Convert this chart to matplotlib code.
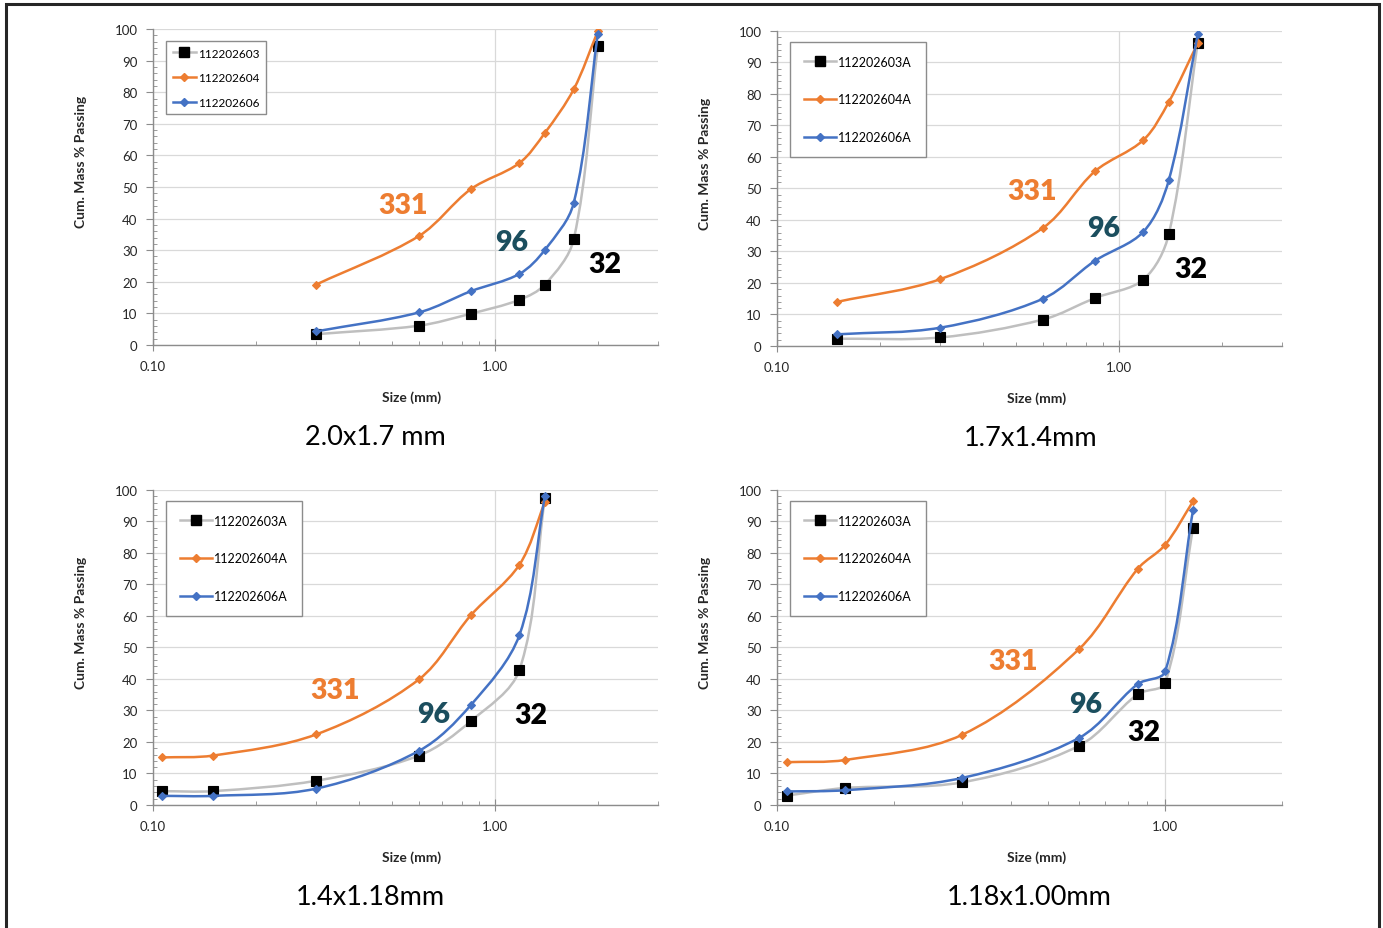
import numpy as np
import matplotlib
matplotlib.use('Agg')
import matplotlib.pyplot as plt
from matplotlib.path import Path
from matplotlib.patches import PathPatch, Rectangle
from matplotlib.lines import Line2D
from matplotlib.ticker import FixedLocator, MultipleLocator, FuncFormatter

plt.rcParams['font.family'] = ['Lato', 'DejaVu Sans']

# 数据 (粒度 mm, 累计通过率 %)
sizes_a = [0.3, 0.6, 0.85, 1.18, 1.4, 1.7, 2.0]
p603_a = [3.4, 6.1, 9.9, 14.3, 19.1, 33.4, 94.5]
p604_a = [19.1, 34.5, 49.3, 57.6, 67.1, 80.9, 99.3]
p606_a = [4.3, 10.3, 17.0, 22.5, 30.1, 44.9, 98.5]

sizes_b = [0.15, 0.3, 0.6, 0.85, 1.18, 1.4, 1.7]
p603_b = [2.3, 2.7, 8.4, 15.2, 21.1, 35.6, 96.2]
p604_b = [14.0, 21.2, 37.5, 55.4, 65.4, 77.5, 96.1]
p606_b = [3.7, 5.8, 15.0, 27.0, 36.3, 52.7, 99.0]

sizes_c = [0.106, 0.15, 0.3, 0.6, 0.85, 1.18, 1.4]
p603_c = [4.4, 4.4, 7.7, 15.7, 26.6, 42.9, 97.3]
p604_c = [15.1, 15.7, 22.4, 39.9, 60.2, 76.3, 96.1]
p606_c = [2.9, 2.9, 5.2, 17.2, 31.7, 54.0, 98.0]

sizes_d = [0.106, 0.15, 0.3, 0.6, 0.85, 1.0, 1.18]
p603_d = [3.0, 5.4, 7.2, 18.8, 35.2, 38.8, 88.0]
p604_d = [13.6, 14.3, 22.3, 49.5, 75.0, 82.6, 96.4]
p606_d = [4.3, 4.7, 8.6, 21.3, 38.4, 42.4, 93.7]

titles = ['2.0x1.7 mm', '1.7x1.4mm', '1.4x1.18mm', '1.18x1.00mm']
labels_a = ['112202603', '112202604', '112202606']
labels_other = ['112202603A', '112202604A', '112202606A']
counts = ['331', '96', '32']
x_max = [3.0, 3.0, 3.0, 2.0]

# 样式
c_gray, c_orange, c_blue = '#BFBFBF', '#ED7D31', '#4472C4'
count_colors = ['#ED7D31', '#1B4E5E', '#000000']
axis_col = '#8C8C8C'

# 面板位置 (figure fraction)
boxes = [[0.1106, 0.6276, 0.3652, 0.3401],
         [0.5618, 0.6265, 0.3652, 0.3391],
         [0.1106, 0.1324, 0.3652, 0.3391],
         [0.5618, 0.1324, 0.3652, 0.3391]]
# 标注位置 (axes fraction): 331, 96, 32
count_pos = [[(0.495, 0.443), (0.711, 0.326), (0.895, 0.256)],
             [(0.505, 0.492), (0.646, 0.375), (0.820, 0.244)],
             [(0.360, 0.365), (0.556, 0.289), (0.749, 0.286)],
             [(0.467, 0.457), (0.612, 0.321), (0.727, 0.232)]]
title_x = [0.44, 0.503, 0.43, 0.499]


def smooth_path(ax, xs, ys):
    # Excel 风格平滑线: 在屏幕坐标里按段长比例算 Bezier 控制点
    pts = ax.transData.transform(np.column_stack([xs, ys]))
    n = len(pts)
    verts = [pts[0]]
    codes = [Path.MOVETO]
    for i in range(n - 1):
        p0 = pts[max(i - 1, 0)]
        p1 = pts[i]
        p2 = pts[i + 1]
        p3 = pts[min(i + 2, n - 1)]
        d01 = np.hypot(*(p1 - p0))
        d12 = np.hypot(*(p2 - p1))
        d23 = np.hypot(*(p3 - p2))
        c1 = p1 + (p2 - p0) * d12 / max(d01 + d12, 1e-9) / 3
        c2 = p2 - (p3 - p1) * d12 / max(d12 + d23, 1e-9) / 3
        verts += [c1, c2, p2]
        codes += [Path.CURVE4] * 3
    verts = ax.transData.inverted().transform(np.array(verts))
    return Path(verts, codes)


fig = plt.figure(figsize=(13.83, 9.29), dpi=100)

datasets = [(sizes_a, p603_a, p604_a, p606_a),
            (sizes_b, p603_b, p604_b, p606_b),
            (sizes_c, p603_c, p604_c, p606_c),
            (sizes_d, p603_d, p604_d, p606_d)]

for k, (xs, s603, s604, s606) in enumerate(datasets):
    ax = fig.add_axes(boxes[k])
    ax.set_xscale('log')
    ax.set_xlim(0.1, x_max[k])
    ax.set_ylim(0, 100)

    series = [(s603, c_gray, 's', 'black', 7, 2),
              (s604, c_orange, 'D', c_orange, 4.5, 3),
              (s606, c_blue, 'D', c_blue, 4.5, 4)]
    labels = labels_a if k == 0 else labels_other
    handles = []
    for (ys, lc, mk, mc, ms, z), lab in zip(series, labels):
        ax.add_patch(PathPatch(smooth_path(ax, xs, ys), facecolor='none', edgecolor=lc,
                               lw=1.8, zorder=z))
        ax.plot(xs, ys, linestyle='none', marker=mk, color=mc, markersize=ms,
                markeredgewidth=0.8, zorder=z + 0.5)
        handles.append(Line2D([], [], color=lc, lw=1.8, marker=mk, markerfacecolor=mc,
                              markeredgecolor=mc, markersize=ms))

    # 网格和坐标轴
    ax.yaxis.set_major_locator(MultipleLocator(10))
    ax.yaxis.set_minor_locator(MultipleLocator(2))
    ax.xaxis.set_major_locator(FixedLocator([0.1, 1.0]))
    ax.xaxis.set_major_formatter(FuncFormatter(lambda v, p: '%.2f' % v))
    ax.xaxis.set_minor_formatter(FuncFormatter(lambda v, p: ''))
    ax.grid(True, which='major', color='#D9D9D9', lw=0.9)
    ax.set_axisbelow(True)
    for s in ['top', 'right']:
        ax.spines[s].set_visible(False)
    for s in ['left', 'bottom']:
        ax.spines[s].set_color(axis_col)
        ax.spines[s].set_linewidth(1.0)
    ax.tick_params(axis='y', which='major', direction='out', length=5, color=axis_col,
                   labelsize=9.5, pad=6, labelcolor='#262626')
    ax.tick_params(axis='y', which='minor', direction='in', length=3, color=axis_col)
    ax.tick_params(axis='x', which='major', direction='inout', length=8, color=axis_col,
                   labelsize=9.5, pad=7, labelcolor='#262626')
    ax.tick_params(axis='x', which='minor', direction='in', length=3, color=axis_col)

    ax.set_xlabel('Size (mm)', fontsize=10, fontweight='bold', color='#262626')
    ax.xaxis.set_label_coords(0.513, -0.145)
    ax.set_ylabel('Cum. Mass % Passing', fontsize=10, fontweight='bold', color='#262626')
    ax.yaxis.set_label_coords(-0.13, 0.582)

    if k == 0:
        leg = ax.legend(handles, labels, loc='upper left', bbox_to_anchor=(0.026, 0.962),
                        fontsize=8.5, handlelength=2.0, handletextpad=0.15,
                        labelspacing=1.15, borderpad=0.55, borderaxespad=0,
                        fancybox=False, framealpha=1)
    else:
        leg = ax.legend(handles, labels, loc='upper left', bbox_to_anchor=(0.026, 0.965),
                        fontsize=9, handlelength=2.6, handletextpad=0.15,
                        labelspacing=2.05, borderpad=1.1, borderaxespad=0,
                        fancybox=False, framealpha=1)
    leg.get_frame().set_edgecolor('#8C8C8C')
    leg.get_frame().set_linewidth(1.0)

    for txt, col, pos in zip(counts, count_colors, count_pos[k]):
        ax.text(pos[0], pos[1], txt, transform=ax.transAxes, color=col, fontsize=20.5,
                fontweight='heavy', ha='center', va='center')

    ax.text(title_x[k], -0.29, titles[k], transform=ax.transAxes, fontsize=19.5,
            ha='center', va='center', color='black')

# 外框
fig.add_artist(Rectangle((6 / 1383, -0.01), 1373 / 1383, 1 - 5 / 929 + 0.01,
                         transform=fig.transFigure, fill=False, edgecolor='#262626', lw=2.2))

plt.savefig('out.png', dpi=100)
